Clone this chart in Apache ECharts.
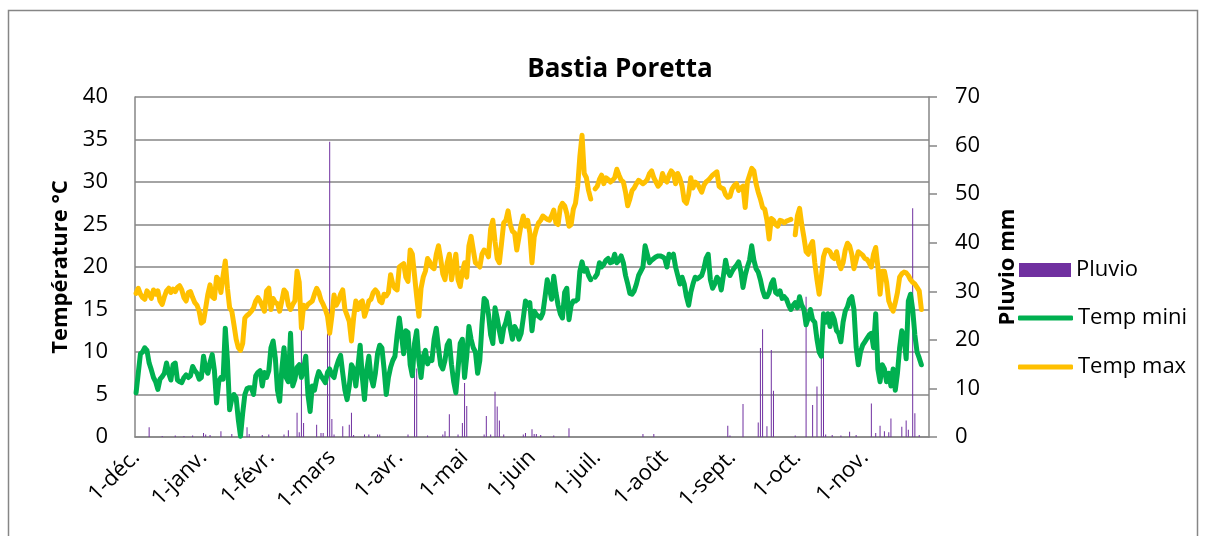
<!DOCTYPE html>
<html>
<head>
<meta charset="utf-8">
<script src="https://cdn.jsdelivr.net/npm/echarts@6/dist/echarts.min.js"></script>
<style>
  html, body { margin: 0; padding: 0; background: #fff; }
  #main { width: 1208px; height: 536px; }
</style>
</head>
<body>
<div id="main"></div>
<script>
var myChart = echarts.init(document.getElementById('main'));

// mois de l'axe (1-déc. -> 30-nov.)
var months = ['déc.', 'janv.', 'févr.', 'mars', 'avr.', 'mai', 'juin', 'juil.', 'août', 'sept.', 'oct.', 'nov.'];
var monthDays = [31, 31, 28, 31, 30, 31, 30, 31, 31, 30, 31, 30];

// Temp max (°C), un mois par ligne
var tempMax = [
  16.9,17.5,16.8,16.4,16.2,17.2,16.8,16.3,17.3,16.8,17.2,16.0,15.6,16.5,17.2,17.5,17.0,17.4,17.1,17.6,17.8,17.3,16.4,16.0,17.0,17.1,16.4,15.8,15.5,14.8,13.4,
  13.6,15.2,16.8,17.9,16.5,16.3,18.8,18.5,17.0,19.0,20.7,17.5,15.2,14.8,13.2,11.5,10.5,10.2,11.0,14.0,14.3,14.5,14.8,15.2,16.0,16.4,16.0,15.4,14.8,17.2,17.5,
  15.0,16.3,15.8,15.7,14.8,16.0,17.3,17.0,15.5,15.0,15.6,16.0,19.5,18.2,12.8,15.5,15.2,15.6,15.8,16.0,16.8,17.5,17.0,16.1,15.6,15.0,14.2,12.2,
  14.2,16.7,15.5,16.0,16.8,17.3,15.0,14.3,13.6,11.3,14.0,16.0,15.0,15.8,16.0,14.2,15.0,16.0,16.2,17.0,17.3,17.0,16.0,15.8,16.8,16.6,17.0,19.1,18.0,17.5,17.3,
  20.0,20.2,20.4,18.8,18.3,22.0,21.5,19.0,16.5,14.2,17.5,18.8,19.5,21.0,20.6,20.0,19.8,21.5,22.5,21.0,19.2,18.5,20.5,21.5,18.5,20.0,21.5,18.5,17.7,19.5,
  20.5,18.8,22.5,23.6,22.0,20.5,20.3,20.0,21.5,22.0,21.8,21.2,24.5,25.5,23.0,21.0,20.5,22.8,25.2,25.5,26.6,25.0,24.2,24.0,22.0,23.5,25.0,26.0,24.8,25.5,24.0,
  20.5,23.5,24.5,25.2,25.5,26.0,25.8,25.6,25.5,26.0,26.7,25.2,25.0,27.0,27.5,27.2,26.3,24.8,25.0,26.8,27.5,29.5,33.0,35.5,31.0,30.5,29.0,28.0,null,29.2,
  29.5,30.3,30.8,29.8,30.5,30.3,30.0,30.2,30.5,31.5,30.8,30.2,30.0,28.8,27.2,28.0,29.0,29.3,29.8,30.2,30.0,29.8,30.0,30.3,31.0,31.3,30.5,30.0,29.5,29.8,31.0,
  30.3,30.0,30.8,31.3,31.0,29.8,31.0,30.4,29.5,27.8,27.5,28.5,30.5,29.3,30.0,29.8,29.3,28.8,29.6,30.0,30.2,30.5,30.8,31.0,31.2,29.5,29.3,29.2,28.5,28.2,28.3,
  29.2,29.6,29.8,29.0,29.3,29.5,27.0,30.0,30.8,31.6,31.3,29.8,28.8,28.0,27.0,26.8,25.5,23.3,25.7,25.5,25.0,24.8,25.5,25.4,25.2,25.4,25.5,25.6,null,23.8,
  26.0,26.9,25.0,23.5,21.8,21.5,22.5,23.0,20.5,18.5,16.8,18.8,21.2,22.0,22.0,21.8,21.2,21.0,21.8,20.5,19.8,20.5,22.0,22.8,22.5,21.5,19.8,20.8,21.8,21.6,21.4,
  21.0,20.9,20.5,20.0,21.5,22.3,20.0,16.8,19.5,19.5,18.2,16.0,15.3,14.8,15.8,17.0,18.8,19.2,19.4,19.3,19.0,18.5,18.2,18.0,17.6,17.2,15.0,null,null,null
];

// Temp mini (°C)
var tempMin = [
  5.2,7.5,9.8,10.0,10.5,10.2,8.7,7.9,7.0,6.5,5.6,6.8,7.1,7.5,8.7,7.5,6.7,8.5,8.7,6.7,6.5,6.4,7.0,7.3,7.0,7.2,8.3,7.8,7.5,6.8,7.0,
  9.5,8.0,7.5,8.8,9.7,7.8,4.0,6.5,7.0,6.8,12.8,9.0,3.2,4.5,5.0,4.6,2.0,0.1,2.8,5.0,5.7,5.8,5.8,5.0,7.2,7.6,7.8,6.0,7.6,7.0,7.8,
  10.5,11.3,9.3,5.5,4.2,8.0,10.5,7.0,6.5,12.2,6.0,6.8,8.2,8.5,7.0,8.0,9.5,5.0,3.0,6.0,5.5,6.8,7.7,7.2,6.8,6.4,7.6,8.0,
  7.3,7.0,8.2,9.0,9.6,7.5,5.5,4.4,6.0,8.5,8.0,6.0,8.3,10.8,7.0,4.4,7.8,9.5,7.0,6.0,7.5,9.8,10.8,10.5,8.0,5.0,7.0,8.2,9.0,9.5,12.0,
  14.0,12.0,9.8,12.5,12.3,8.5,7.2,11.0,12.5,9.0,7.0,9.5,10.2,8.6,9.2,9.0,11.5,12.8,10.5,8.5,8.0,9.0,10.8,11.3,8.5,6.5,5.2,8.0,11.0,11.5,
  7.0,9.5,13.0,11.5,10.5,10.0,7.5,9.0,13.2,16.3,16.0,14.4,12.0,11.0,15.2,14.0,12.5,11.2,12.8,13.5,14.6,12.8,11.5,13.0,12.5,11.5,12.2,14.0,16.0,15.5,15.8,
  12.5,14.8,14.4,14.2,14.0,14.6,16.5,18.5,17.5,16.2,18.9,17.0,15.5,14.5,14.0,17.0,17.5,13.8,15.5,16.0,16.0,16.2,19.5,20.6,19.5,19.8,19.0,18.5,null,18.8,
  19.2,20.5,20.0,20.3,20.8,21.0,20.5,20.6,21.5,20.5,20.8,21.3,20.5,19.0,18.0,16.9,16.8,17.2,18.0,19.0,19.5,20.0,22.5,21.5,20.5,20.8,21.0,21.2,21.3,21.3,21.2,
  21.0,20.0,21.5,21.2,21.5,20.0,19.0,18.0,18.8,18.0,16.5,15.5,17.0,18.0,18.8,18.6,18.8,19.0,19.8,21.0,21.5,18.5,17.5,18.0,18.8,18.5,17.3,19.0,20.8,19.5,19.0,
  19.5,19.9,20.2,20.6,19.5,17.6,19.0,20.0,20.8,22.5,20.8,19.8,19.4,18.5,17.3,16.5,16.5,17.0,18.0,18.5,17.0,16.8,17.2,16.3,16.5,16.2,15.5,15.0,15.5,15.8,
  15.2,16.5,15.5,15.0,13.2,14.0,15.0,13.8,13.5,11.5,10.0,9.5,14.5,13.5,14.5,13.0,14.5,13.8,12.5,12.2,11.2,13.5,14.8,15.3,16.2,16.5,15.0,10.6,8.5,10.0,10.8,
  11.2,11.6,12.0,12.2,10.5,14.5,8.0,6.5,8.5,8.0,6.5,7.5,6.0,8.0,5.5,7.5,10.5,12.5,11.8,9.2,16.0,16.8,15.0,12.0,10.0,9.3,8.5,null,null,null
];

// Pluvio (mm)
var pluvio = [
  0,0,0,0,0,0,2.0,0,0,0,0,0,0.2,0,0,0,0,0,0.3,0,0,0,0.2,0,0,0,0.3,0,0,0,0,
  0.8,0.5,0,0.4,0,0,0,0,1.2,0,0,0,0,0.6,0,0,0,0,0,0,2.0,0.6,0,0,0,0,0,0.4,0,0,0.5,
  0,0,0,0,0,0,0.5,0,1.4,0,0,0,5.0,1.0,24.0,2.9,0,0,0,0,0,2.5,0,0.8,0.8,0,21.3,60.8,
  3.7,0.5,0,0,0,2.2,0,0,2.5,5.0,0.4,0,0,0,0,0.5,0,0.5,0,0,0,0.5,0.5,0,0,0,0,0,0,0,0,
  0,0,0,0,0.5,0,0,14.1,14.1,0,0,0,0,0.3,0,0,0,0,0,0,0.5,1.2,0,4.7,0,0,0,0.5,0,2.9,
  11.1,6.4,0,0,0,0,0,0,0,0.5,4.3,0,0.5,0,9.3,6.3,3.4,0,0.5,0,0,0,0,0,0,0,0,0.5,0.8,0,0,
  1.6,0.6,0.6,0,0.4,0,0,0,0,0,0.3,0,0,0,0,0,0,1.8,0,0,0,0,0,0,0,0,0,0,0,0,
  0,0,0,0,0,0,0,0,0,0,0,0,0,0,0,0,0,0,0,0,0,0.6,0,0,0,0,0.6,0,0,0,0,
  0,0,0,0,0,0,0,0,0,0,0,0,0,0,0,0,0,0,0,0,0,0,0,0,0,0,0,0,0,2.3,0.3,
  0,0,0,0,0,6.8,0,0,0,0,0,0,3.0,18.3,22.2,0,2.2,0,17.9,9.5,0,0,0,0,0,0,0,0,0,0.3,
  0,0,0,0,28.9,0,0,6.6,0,10.4,0,17.5,17.2,0.5,0,0,0.4,0,0,0,0.3,0,0,0,1.1,0,0,0.4,0,0,0,
  0,0,0,6.9,0,0.8,0,2.3,0,1.2,0,1.0,3.8,0,0,0,0,2.1,0,3.4,1.5,0,47.1,4.9,0,0.4,0,0,0,0
];

var days = [];
for (var i = 0; i < months.length; i++) {
  for (var d = 1; d <= monthDays[i]; d++) {
    days.push(d + '-' + months[i]);
  }
}

var font = '"Open Sans", "Liberation Sans", sans-serif';
var gris = '#868686';
var legendText = { fontFamily: font, fontSize: 22, color: '#000', lineHeight: 24 };

myChart.setOption({
  backgroundColor: '#fff',
  animation: false,
  title: {
    text: 'Bastia Poretta',
    left: 615,
    textAlign: 'center',
    top: 52,
    textStyle: { fontFamily: font, fontSize: 26, fontWeight: 'bold', color: '#000' }
  },
  graphic: [{
    type: 'rect',
    shape: { x: 8.5, y: 10.5, width: 1189, height: 600 },
    style: { fill: 'none', stroke: gris, lineWidth: 1.5 },
    silent: true
  }],
  legend: [
    {
      data: ['Pluvio'], left: 1019, top: 258, padding: 0, icon: 'rect',
      itemWidth: 52, itemHeight: 14, textStyle: legendText
    },
    {
      data: ['Temp mini'], left: 1018, top: 306, padding: 0, icon: 'roundRect',
      itemWidth: 55, itemHeight: 5, textStyle: legendText
    },
    {
      data: ['Temp max'], left: 1018, top: 355, padding: 0, icon: 'roundRect',
      itemWidth: 55, itemHeight: 5, textStyle: legendText
    }
  ],
  grid: { left: 135, right: 279, top: 97, bottom: 99 },
  xAxis: {
    type: 'category',
    data: days,
    boundaryGap: true,
    axisLine: { lineStyle: { color: gris, width: 1.5 } },
    axisTick: { show: false },
    axisLabel: {
      interval: function (index, value) { return value.indexOf('1-') === 0; },
      rotate: 45,
      margin: 17,
      fontFamily: font,
      fontSize: 22,
      color: '#000'
    },
    splitLine: { show: false }
  },
  yAxis: [
    {
      type: 'value',
      min: 0, max: 40, interval: 5,
      name: 'Température °C',
      nameLocation: 'middle',
      nameGap: 60,
      nameTextStyle: { fontFamily: font, fontSize: 22, fontWeight: 'bold', color: '#000' },
      axisLine: { show: true, lineStyle: { color: gris, width: 1.5 } },
      axisTick: { show: false },
      axisLabel: { margin: 27, fontFamily: font, fontSize: 22, color: '#000' },
      splitLine: { lineStyle: { color: gris, width: 1.5 } }
    },
    {
      type: 'value',
      min: 0, max: 70, interval: 10,
      name: 'Pluvio mm',
      nameLocation: 'middle',
      nameGap: 68,
      nameTextStyle: { fontFamily: font, fontSize: 22, fontWeight: 'bold', color: '#000' },
      axisLine: { show: true, lineStyle: { color: gris, width: 1.5 } },
      axisTick: { show: true, length: 8, lineStyle: { color: gris, width: 1.5 } },
      axisLabel: { margin: 26, fontFamily: font, fontSize: 22, color: '#000' },
      splitLine: { show: false }
    }
  ],
  series: [
    {
      name: 'Pluvio',
      type: 'bar',
      yAxisIndex: 1,
      barWidth: 1,
      data: pluvio,
      itemStyle: { color: '#7030A0' }
    },
    {
      name: 'Temp mini',
      type: 'line',
      data: tempMin,
      symbol: 'none',
      connectNulls: false,
      lineStyle: { color: '#00B050', width: 5, cap: 'round', join: 'round' },
      itemStyle: { color: '#00B050' }
    },
    {
      name: 'Temp max',
      type: 'line',
      data: tempMax,
      symbol: 'none',
      connectNulls: false,
      lineStyle: { color: '#FFC000', width: 5, cap: 'round', join: 'round' },
      itemStyle: { color: '#FFC000' }
    }
  ]
});
</script>
</body>
</html>
